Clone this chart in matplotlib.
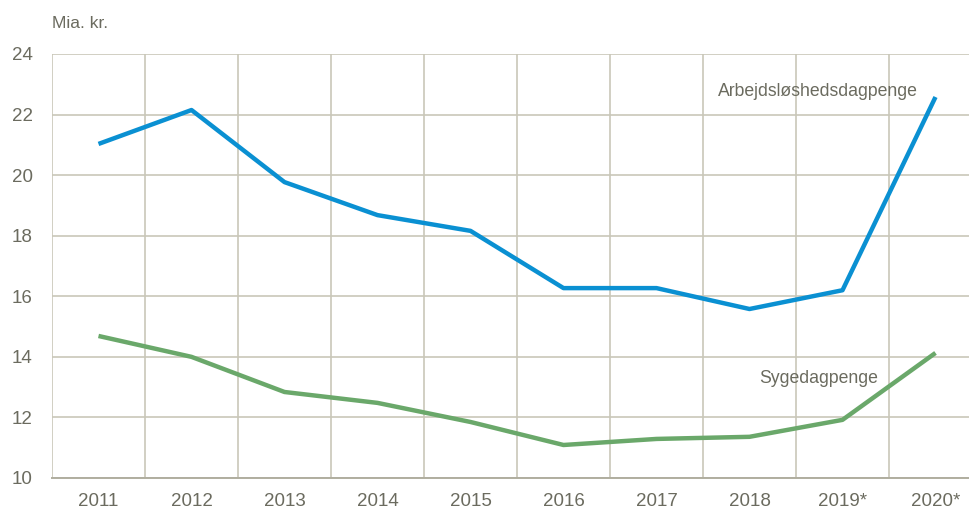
import matplotlib.pyplot as plt
import numpy as np

years = ['2011', '2012', '2013', '2014', '2015', '2016', '2017', '2018', '2019*', '2020*']
arbejdsloshed = [21.03, 22.15, 19.77, 18.68, 18.16, 16.27, 16.27, 15.58, 16.2, 22.58]
sygedagpenge = [14.69, 14.0, 12.84, 12.48, 11.85, 11.09, 11.29, 11.36, 11.92, 14.13]

grid_col = '#c9c7b9'
text_col = '#6b6b5f'

plt.rcParams['font.family'] = ['Liberation Sans', 'DejaVu Sans']

fig = plt.figure(figsize=(9.69, 5.11), dpi=100)
ax = fig.add_axes([52 / 969, 1 - 478 / 511, 930 / 969, 424 / 511])

x = np.arange(len(years))
ax.plot(x, arbejdsloshed, color='#0a90d2', lw=3.2, solid_capstyle='butt')
ax.plot(x, sygedagpenge, color='#6aa86a', lw=3.2, solid_capstyle='butt')

ax.set_xlim(-0.5, len(years) - 0.5)
ax.set_ylim(10, 24)
ax.set_yticks(range(10, 25, 2))
ax.set_xticks(x)
ax.set_xticklabels(years)
ax.set_xticks(np.arange(-0.5, len(years), 1), minor=True)

ax.grid(True, which='minor', axis='x', color=grid_col, lw=1.2)
ax.grid(True, which='major', axis='y', color=grid_col, lw=1.2)
ax.grid(False, which='major', axis='x')
ax.set_axisbelow(True)

for s in ['top', 'right', 'left']:
    ax.spines[s].set_visible(False)
ax.spines['bottom'].set_color('#b0ae9f')
ax.spines['bottom'].set_linewidth(1.4)

ax.tick_params(which='both', length=0, labelsize=13.5, colors=text_col)
ax.tick_params(axis='x', pad=11)
ax.tick_params(axis='y', pad=14)

ax.text(7.74, 22.75, 'Arbejdsløshedsdagpenge', ha='center', va='center', fontsize=12.7, color=text_col)
ax.text(7.74, 13.3, 'Sygedagpenge', ha='center', va='center', fontsize=12.7, color=text_col)

fig.text(52 / 969, 1 - 24 / 511, 'Mia. kr.', ha='left', va='center', fontsize=12.5, color=text_col)

fig.savefig('out.png', dpi=100)
